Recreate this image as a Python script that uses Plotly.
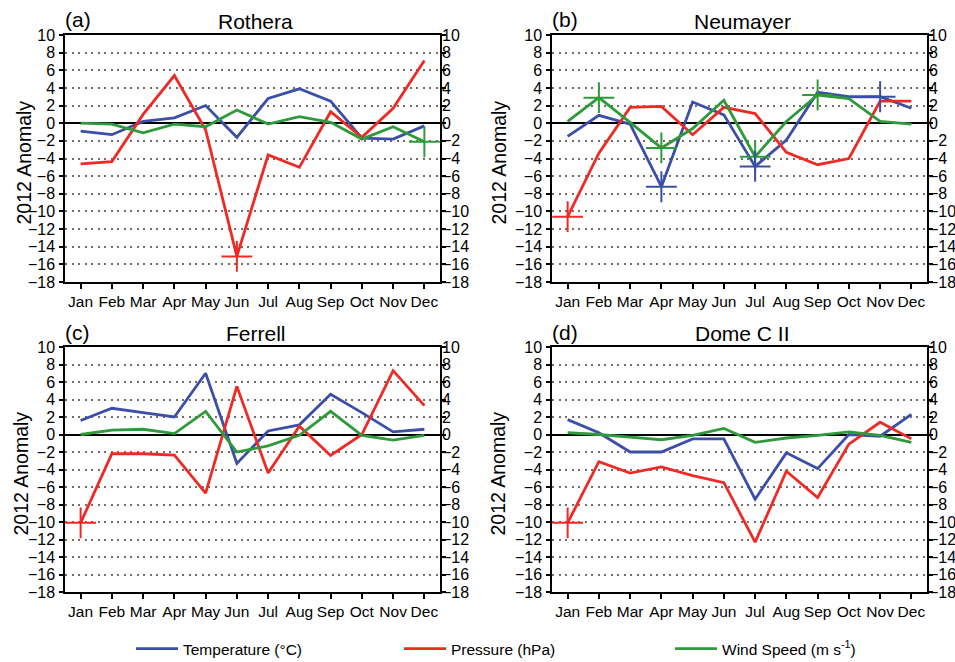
import plotly.graph_objects as go

months = ["Jan", "Feb", "Mar", "Apr", "May", "Jun", "Jul", "Aug", "Sep", "Oct", "Nov", "Dec"]
y_ticks = list(range(-18, 11, 2))

# Rothera
rothera_temp = [-0.9, -1.3, 0.2, 0.6, 2.0, -1.6, 2.8, 3.9, 2.5, -1.7, -1.8, -0.3]
rothera_pres = [-4.6, -4.35, 1.0, 5.4, -0.75, -15.1, -3.6, -5.0, 1.3, -1.6, 1.7, 7.1]
rothera_wind = [0.0, -0.1, -1.1, -0.1, -0.4, 1.5, -0.1, 0.75, 0.1, -1.8, -0.4, -2.1]
rothera_marks = [("pres", "Jun"), ("wind", "Dec")]

# Neumayer
neumayer_temp = [-1.5, 0.9, -0.1, -7.2, 2.4, 0.95, -4.9, -1.9, 3.5, 3.0, 3.0, 1.7]
neumayer_pres = [-10.6, -3.4, 1.8, 1.9, -1.3, 1.8, 1.1, -3.3, -4.7, -4.0, 2.5, 2.5]
neumayer_wind = [0.2, 2.9, 0.1, -2.8, -0.6, 2.6, -3.8, 0.2, 3.2, 2.8, 0.2, -0.1]
neumayer_marks = [("pres", "Jan"), ("wind", "Feb"), ("wind", "Apr"), ("temp", "Apr"),
                  ("wind", "Jul"), ("temp", "Jul"), ("wind", "Sep"), ("temp", "Nov")]

# Ferrell
ferrell_temp = [1.6, 3.0, 2.5, 2.0, 7.0, -3.3, 0.4, 1.1, 4.6, 2.5, 0.3, 0.6]
ferrell_pres = [-10.1, -2.2, -2.2, -2.35, -6.7, 5.5, -4.4, 0.95, -2.4, 0.0, 7.3, 3.3]
ferrell_wind = [0.0, 0.5, 0.6, 0.1, 2.65, -2.0, -1.3, -0.1, 2.65, -0.1, -0.65, -0.1]
ferrell_marks = [("pres", "Jan")]

# Dome C II
domec_temp = [1.7, 0.2, -2.0, -2.0, -0.5, -0.5, -7.4, -2.1, -3.9, 0.0, -0.2, 2.3]
domec_pres = [-10.1, -3.1, -4.4, -3.7, -4.7, -5.5, -12.3, -4.2, -7.2, -1.1, 1.4, -0.5]
domec_wind = [0.2, 0.0, -0.3, -0.6, -0.1, 0.7, -0.9, -0.4, -0.1, 0.3, -0.1, -0.9]
domec_marks = [("pres", "Jan")]

stations = [
    ("(a)", "Rothera", rothera_temp, rothera_pres, rothera_wind, rothera_marks),
    ("(b)", "Neumayer", neumayer_temp, neumayer_pres, neumayer_wind, neumayer_marks),
    ("(c)", "Ferrell", ferrell_temp, ferrell_pres, ferrell_wind, ferrell_marks),
    ("(d)", "Dome C II", domec_temp, domec_pres, domec_wind, domec_marks),
]

W, H = 955, 662
colors = {"temp": "#3b4ea8", "pres": "#ee2a24", "wind": "#2e9a3c"}
names = {"temp": "Temperature (°C)", "pres": "Pressure (hPa)", "wind": "Wind Speed (m s<sup>-1</sup>)"}
# one legend box per series so each entry sits where it does in the original
legend_ids = {"temp": "legend", "pres": "legend2", "wind": "legend3"}
legend_x = {"temp": 131, "pres": 399, "wind": 670}
FONT = "Liberation Sans, Arial, sans-serif"

# panel boxes in pixels: (left, right, top, bottom), and x centre of the y title
boxes = [(65, 440, 35, 282), (552, 927, 35, 282), (65, 440, 347, 592), (552, 927, 347, 592)]
ytitle_x = [23, 498, 20, 497]

fig = go.Figure()
layout = dict(width=W, height=H, margin=dict(l=0, r=0, t=0, b=0, autoexpand=False),
              plot_bgcolor="white", paper_bgcolor="white",
              font=dict(family=FONT, color="black"), annotations=[])

for i, (tag, name, temp, pres, wind, marks) in enumerate(stations):
    n = i + 1
    xa, ya, yr = f"x{n}", f"y{n}", f"y{n + 4}"
    series = {"temp": temp, "pres": pres, "wind": wind}
    for key in ["temp", "pres", "wind"]:
        fig.add_trace(go.Scatter(
            x=months, y=series[key], mode="lines", name=names[key],
            line=dict(color=colors[key], width=2.8),
            xaxis=xa, yaxis=ya, showlegend=(i == 0), legend=legend_ids[key]))
    for key, m in marks:
        fig.add_trace(go.Scatter(
            x=[m], y=[series[key][months.index(m)]], mode="markers",
            marker=dict(symbol="cross-thin", size=22, line=dict(color=colors[key], width=2)),
            xaxis=xa, yaxis=ya, showlegend=False, hoverinfo="skip"))
    # dummy trace so the right-hand axis gets drawn
    fig.add_trace(go.Scatter(x=[months[0]], y=[None], mode="lines", xaxis=xa, yaxis=yr,
                             showlegend=False, hoverinfo="skip"))

    l, r, t, b = boxes[i]
    xd = [l / W, r / W]
    yd = [1 - b / H, 1 - t / H]
    key_x = "xaxis" if n == 1 else f"xaxis{n}"
    key_y = "yaxis" if n == 1 else f"yaxis{n}"
    layout[key_x] = dict(domain=xd, anchor=ya, type="category", range=[-0.5, 11.5],
                         showline=True, linecolor="black", linewidth=1.5, mirror=True,
                         ticks="outside", ticklen=5, tickwidth=1.5, tickcolor="black",
                         showgrid=False, automargin=False, tickfont=dict(size=15.5, family=FONT))
    layout[key_y] = dict(domain=yd, anchor=xa, range=[-18, 10], tickvals=y_ticks,
                         showline=True, linecolor="black", linewidth=1.5, mirror="ticks",
                         ticks="outside", ticklen=4, tickwidth=1.5, tickcolor="black",
                         showgrid=True, gridcolor="#7a6a64", gridwidth=2, griddash="2px,4.5px",
                         zeroline=True, zerolinecolor="black", zerolinewidth=1.5,
                         automargin=False, tickfont=dict(size=16, family=FONT),
                         ticklabelstandoff=1)
    layout[f"yaxis{n + 4}"] = dict(overlaying=ya, anchor=xa, side="right", range=[-18, 10],
                                   tickvals=y_ticks, showgrid=False, zeroline=False,
                                   showline=False, ticks="", ticklabelstandoff=1,
                                   automargin=False, tickfont=dict(size=16, family=FONT))
    layout["annotations"].append(dict(text=tag, x=(l - 2) / W, y=1 - (t - 15) / H,
                                      xref="paper", yref="paper", xanchor="left",
                                      yanchor="middle", showarrow=False,
                                      font=dict(size=21, family=FONT)))
    layout["annotations"].append(dict(text=name, x=(l + r) / 2 / W + 3 / W, y=1 - (t - 14) / H,
                                      xref="paper", yref="paper", xanchor="center",
                                      yanchor="middle", showarrow=False,
                                      font=dict(size=21, family=FONT)))
    layout["annotations"].append(dict(text="2012 Anomaly", x=ytitle_x[i] / W,
                                      y=1 - ((t + b) / 2 + 4) / H, xref="paper", yref="paper",
                                      xanchor="center", yanchor="middle", textangle=-90,
                                      showarrow=False, font=dict(size=19.5, family=FONT)))

for key, lid in legend_ids.items():
    layout[lid] = dict(orientation="h", x=legend_x[key] / W, y=1 - 632 / H,
                       xanchor="left", yanchor="top", itemwidth=42,
                       font=dict(size=15.5, family=FONT), bgcolor="rgba(0,0,0,0)")
fig.update_layout(**layout)

# the page body has a default margin; drop it so the figure fills the window
fig.write_html("out.html", config={"displayModeBar": False},
               post_script="document.body.style.margin = '0px';")
